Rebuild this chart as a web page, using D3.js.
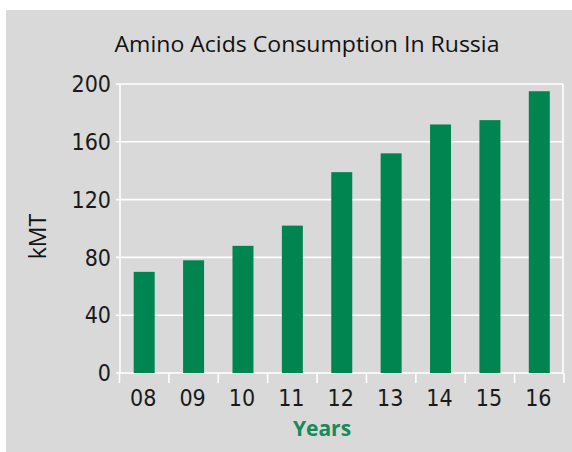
<!DOCTYPE html>
<html><head><meta charset="utf-8">
<script src="https://cdn.jsdelivr.net/npm/d3@7"></script>
<style>
body{margin:0;background:#fff;}
svg{display:block;}
.tick-lbl{font-family:"Liberation Sans Narrow","DejaVu Sans Condensed",sans-serif;font-stretch:condensed;fill:#1a1a1a;}
</style></head>
<body>
<svg id="chart" width="572" height="452"></svg>
<script>
const title = "Amino Acids Consumption In Russia";
const yTitle = "kMT";
const xTitle = "Years";
const years = ["08","09","10","11","12","13","14","15","16"];
const values = [70, 78, 88, 102, 139, 152, 172, 175, 195];
const yTicks = [0, 40, 80, 120, 160, 200];

const svg = d3.select("#chart");
svg.append("rect").attr("x",6).attr("y",10).attr("width",566).attr("height",442).attr("fill","#d9d9d9");

const x = d3.scaleBand().domain(years).range([119.5, 564]).paddingInner(0.575).paddingOuter(0.2875);
const y = d3.scaleLinear().domain([0, 200]).range([373, 84]);
const left = 120, right = 563;

// gridlines
svg.append("g").selectAll("line").data(yTicks).join("line")
  .attr("x1", 116).attr("x2", right)
  .attr("y1", d => y(d)).attr("y2", d => y(d))
  .attr("stroke", "#fff").attr("stroke-width", 1.6);

// vertical frame lines
svg.append("g").selectAll("line").data([left, right]).join("line")
  .attr("x1", d => d).attr("x2", d => d)
  .attr("y1", y(200)).attr("y2", y(0))
  .attr("stroke", "#fff").attr("stroke-width", 1.6);

// x ticks at band boundaries
const bounds = years.map(d => x(d) - x.step()*x.paddingInner()/2).concat([x.range()[1]]);
svg.append("g").selectAll("line").data(bounds).join("line")
  .attr("x1", d => d).attr("x2", d => d)
  .attr("y1", y(0)).attr("y2", y(0) + 10)
  .attr("stroke", "#fff").attr("stroke-width", 1.6);

// bars
svg.append("g").selectAll("rect").data(values).join("rect")
  .attr("x", (d,i) => x(years[i]))
  .attr("width", x.bandwidth())
  .attr("y", d => y(d))
  .attr("height", d => y(0) - y(d))
  .attr("fill", "#008551");

// y tick labels
svg.append("g").selectAll("text").data(yTicks).join("text")
  .attr("class","tick-lbl")
  .attr("x", 111).attr("y", d => y(d)).attr("dy","0.36em")
  .attr("text-anchor","end").attr("font-size", 23)
  .text(d => d);

// x tick labels
svg.append("g").selectAll("text").data(years).join("text")
  .attr("class","tick-lbl")
  .attr("x", d => x(d) + x.bandwidth()/2 - 1).attr("y", 406)
  .attr("text-anchor","middle").attr("font-size", 23)
  .text(d => d);

// title
svg.append("text").attr("x", 307).attr("y", 52)
  .attr("text-anchor","middle")
  .attr("font-family","'Open Sans', sans-serif").attr("font-size", 22.5)
  .attr("fill","#111")
  .attr("textLength", 385).attr("lengthAdjust","spacingAndGlyphs")
  .text(title);

// y title
svg.append("text").attr("transform","translate(46,236.5) rotate(-90)")
  .attr("text-anchor","middle")
  .attr("font-family","'Open Sans', sans-serif").attr("font-size", 23)
  .attr("fill","#111")
  .text(yTitle);

// x title
svg.append("text").attr("x", 322).attr("y", 436)
  .attr("text-anchor","middle")
  .attr("font-family","'Open Sans', sans-serif").attr("font-size", 21).attr("font-weight","bold")
  .attr("fill","#168a58")
  .text(xTitle);
</script>
</body></html>
